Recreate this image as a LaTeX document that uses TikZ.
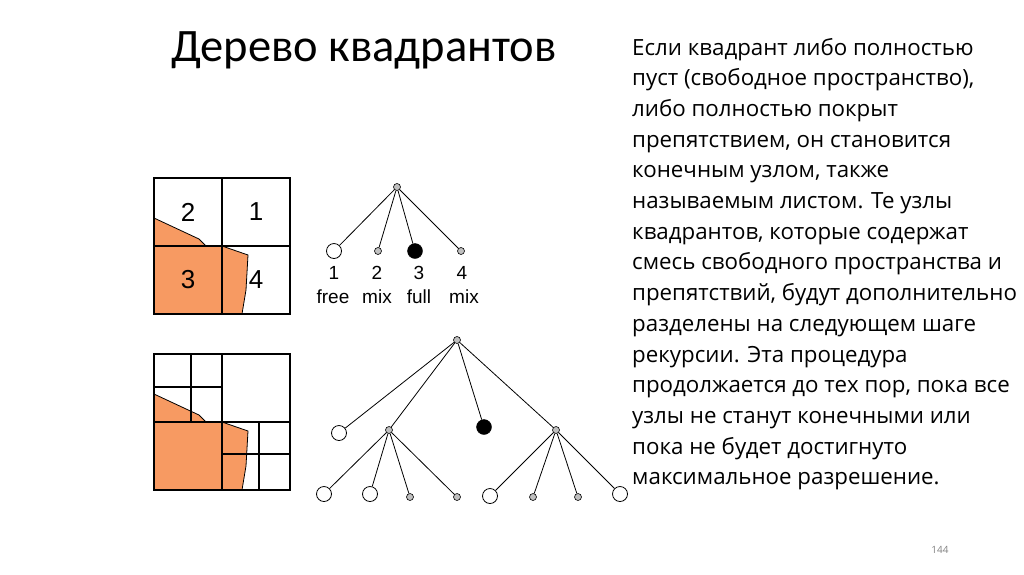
\documentclass[tikz,border=0pt]{standalone}
\usepackage{fontspec}
\setmainfont{Open Sans}
\newfontfamily\titlefont{Carlito}
\newfontfamily\arialf{Liberation Sans}
\definecolor{obst}{HTML}{F79A62}
\definecolor{gnode}{HTML}{C0C0C0}
\begin{document}
\begin{tikzpicture}[x=1pt,y=-1pt,
  big/.style={circle,draw,fill=white,inner sep=0pt,minimum size=15pt,line width=0.8pt},
  sml/.style={circle,draw,fill=gnode,inner sep=0pt,minimum size=7pt,line width=0.6pt},
  blk/.style={circle,draw,fill=black,inner sep=0pt,minimum size=15pt},
  edge/.style={line width=0.8pt},
  grid/.style={line width=1.3pt},
  qn/.style={font=\arialf\fontsize{26}{26}\selectfont,inner sep=0pt},
  lbl/.style={font=\arialf\fontsize{19}{19}\selectfont,inner sep=0pt},
  body/.style={anchor=base west,inner sep=0pt,font=\fontsize{22.3}{24}\selectfont}]
\useasboundingbox (0,0) rectangle (1024,574);
\node[anchor=west,inner sep=0pt,font=\titlefont\fontsize{46.5}{46.5}\selectfont] (title) at (171,50) {Дерево квадрантов};
% top square
\fill[obst,draw=black,line width=0.8pt] (154,218) -- (199,239) -- (206,246) -- (222,246) -- (248,255) -- (246,290) -- (242,314) -- (154,314) -- cycle;
\draw[grid] (154,178) rectangle (290,314);
\draw[grid] (222,178) -- (222,314) (154,246) -- (290,246);
\node[qn] (q2) at (188,212) {2};
\node[qn] (q1) at (256,212) {1};
\node[qn] (q3) at (188,280) {3};
\node[qn] (q4) at (256,280) {4};
% bottom square
\fill[obst,draw=black,line width=0.8pt] (154,394) -- (199,415) -- (206,422) -- (222,422) -- (248,431) -- (246,466) -- (242,490) -- (154,490) -- cycle;
\draw[grid] (154,354) rectangle (290,490);
\draw[grid] (222,354) -- (222,490) (154,422) -- (290,422);
\draw[grid] (191,354) -- (191,422) (154,387) -- (222,387);
\draw[grid] (259,422) -- (259,490) (222,454) -- (290,454);
% top tree
\node[sml] (r) at (397,187) {};
\node[big] (a1) at (334,251) {};
\node[sml] (a2) at (378,251) {};
\node[blk] (a3) at (415,251) {};
\node[sml] (a4) at (461,251) {};
\foreach \c in {a1,a2,a3,a4} \draw[edge] (r) -- (\c);
\node[lbl] (n1) at (334,273) {1};
\node[lbl] (n2) at (377,273) {2};
\node[lbl] (n3) at (419,273) {3};
\node[lbl] (n4) at (462,273) {4};
\node[lbl] (t1) at (333,297) {free};
\node[lbl] (t2) at (377,297) {mix};
\node[lbl] (t3) at (419,297) {full};
\node[lbl] (t4) at (464,297) {mix};
% bottom tree
\node[sml] (R) at (457,340) {};
\node[big] (b1) at (339,433) {};
\node[sml] (b2) at (389,430) {};
\node[blk] (b3) at (484,427) {};
\node[sml] (b4) at (556,430) {};
\foreach \c in {b1,b2,b3,b4} \draw[edge] (R) -- (\c);
\node[big] (c1) at (324,494) {};
\node[big] (c2) at (370,494) {};
\node[sml] (c3) at (410,497) {};
\node[sml] (c4) at (457,497) {};
\foreach \c in {c1,c2,c3,c4} \draw[edge] (b2) -- (\c);
\node[big] (d1) at (490,496) {};
\node[sml] (d2) at (533,497) {};
\node[sml] (d3) at (578,497) {};
\node[big] (d4) at (620,494) {};
\foreach \c in {d1,d2,d3,d4} \draw[edge] (b4) -- (\c);
% text
\foreach \t [count=\i from 0] in {Если квадрант либо полностью,пуст (свободное пространство){,},либо полностью покрыт,препятствием{,} он становится,конечным узлом{,} также,называемым листом. Те узлы,квадрантов{,} которые содержат,смесь свободного пространства и,препятствий{,} будут дополнительно,разделены на следующем шаге,рекурсии. Эта процедура,продолжается до тех пор{,} пока все,узлы не станут конечными или,пока не будет достигнуто,максимальное разрешение.}
  \node[body] (l\i) at (632,{55+30.7*\i}) {\t};
\node[font=\fontsize{10}{10}\selectfont,text=gray] (pg) at (940,550) {144};
\end{tikzpicture}
\end{document}
